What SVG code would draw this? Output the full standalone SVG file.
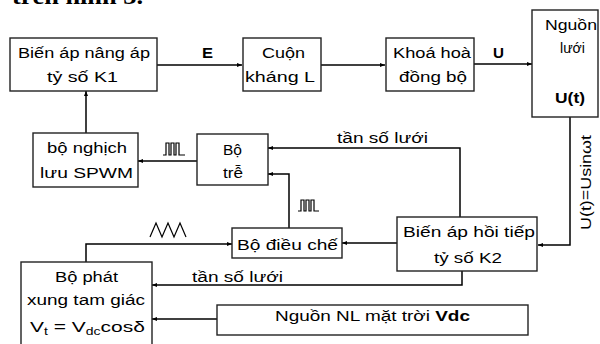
<svg xmlns="http://www.w3.org/2000/svg" width="600" height="344" viewBox="0 0 600 344">
<defs>
<marker id="ah" viewBox="0 0 10 10" refX="10" refY="5" markerWidth="5" markerHeight="5" orient="auto" markerUnits="userSpaceOnUse"><path d="M0,1 L10,5 L0,9 z" fill="#000"/></marker>
<style>
.b{fill:#fff;stroke:#222;stroke-width:1.4}
.c{fill:none;stroke:#000;stroke-width:1.5;marker-end:url(#ah)}
.s{fill:none;stroke:#000;stroke-width:1.2}
text{font-family:"Liberation Sans",Arial,sans-serif;font-size:14px;fill:#000}
.bd{font-weight:bold}
</style>
</defs>
<rect width="600" height="344" fill="#fff"/>
<text x="12" y="4" style="font-family:'Liberation Serif',serif;font-size:24px;font-weight:bold" textLength="131" lengthAdjust="spacingAndGlyphs">trên hình 3.</text>
<g id="connectors">
<path class="c" d="M157,65 H242"/>
<path class="c" d="M321,65 H385"/>
<path class="c" d="M474,64 H532"/>
<path class="c" d="M570,117 V245 H538"/>
<path class="c" d="M460,217 V148 H268"/>
<path class="c" d="M289,228 V174 H268"/>
<path class="c" d="M197,161 H138"/>
<path class="c" d="M86,133 V91"/>
<path class="c" d="M397,243 H342"/>
<path class="c" d="M86,262 V244 H232"/>
<path class="c" d="M462,271 V285 H152"/>
<path class="c" d="M217,319 H152"/>
<text x="202" y="58" class="bd" textLength="11" lengthAdjust="spacingAndGlyphs">E</text>
<text x="493" y="58" class="bd" textLength="11" lengthAdjust="spacingAndGlyphs">U</text>
<text x="337" y="143" textLength="91" lengthAdjust="spacingAndGlyphs">tần số lưới</text>
<text x="192" y="282" textLength="91" lengthAdjust="spacingAndGlyphs">tần số lưới</text>
<text transform="translate(591,230) rotate(-90)" textLength="95" lengthAdjust="spacingAndGlyphs">U(t)=Usinωt</text>
<path class="s" d="M163,155 H166 V143 H169 V155 H171 V143 H174 V155 H176 V143 H179 V155 H185"/>
<path class="s" d="M298,211 H301 V200 H304 V211 H306 V200 H309 V211 H311 V200 H314 V211 H319"/>
<path class="s" d="M150,237 L156,223 L162,237 L168,223 L174,237 L180,223 L186,237"/>
</g>
<g id="n1"><rect class="b" x="10" y="38" width="147" height="53"/>
<text x="18" y="58" textLength="132" lengthAdjust="spacingAndGlyphs">Biến áp nâng áp</text>
<text x="47" y="82" textLength="71" lengthAdjust="spacingAndGlyphs">tỷ số K1</text></g>
<g id="n2"><rect class="b" x="243" y="38" width="78" height="53"/>
<text x="262" y="58" textLength="43" lengthAdjust="spacingAndGlyphs">Cuộn</text>
<text x="245" y="82" textLength="70" lengthAdjust="spacingAndGlyphs">kháng L</text></g>
<g id="n3"><rect class="b" x="386" y="38" width="88" height="53"/>
<text x="393" y="58" textLength="78" lengthAdjust="spacingAndGlyphs">Khoá hoà</text>
<text x="399" y="82" textLength="68" lengthAdjust="spacingAndGlyphs">đồng bộ</text></g>
<g id="n4"><rect class="b" x="532" y="10" width="66" height="107"/>
<text x="545" y="30" textLength="52" lengthAdjust="spacingAndGlyphs">Nguồn</text>
<text x="560" y="53" textLength="25" lengthAdjust="spacingAndGlyphs">lưới</text>
<text x="555" y="103" class="bd" textLength="30" lengthAdjust="spacingAndGlyphs">U(t)</text></g>
<g id="n5"><rect class="b" x="33" y="133" width="105" height="54"/>
<text x="47" y="153" textLength="80" lengthAdjust="spacingAndGlyphs">bộ nghịch</text>
<text x="40" y="178" textLength="93" lengthAdjust="spacingAndGlyphs">lưu SPWM</text></g>
<g id="n6"><rect class="b" x="197" y="134" width="71" height="51"/>
<text x="223" y="155" textLength="19" lengthAdjust="spacingAndGlyphs">Bộ</text>
<text x="223" y="178" textLength="20" lengthAdjust="spacingAndGlyphs">trễ</text></g>
<g id="n7"><rect class="b" x="232" y="228" width="110" height="30"/>
<text x="237" y="250" textLength="101" lengthAdjust="spacingAndGlyphs">Bộ điều chế</text></g>
<g id="n8"><rect class="b" x="397" y="217" width="140" height="54"/>
<text x="403" y="237" textLength="132" lengthAdjust="spacingAndGlyphs">Biến áp hồi tiếp</text>
<text x="434" y="263" textLength="68" lengthAdjust="spacingAndGlyphs">tỷ số K2</text></g>
<g id="n9"><rect class="b" x="21" y="262" width="131" height="90"/>
<text x="55" y="282" textLength="63" lengthAdjust="spacingAndGlyphs">Bộ phát</text>
<text x="27" y="305" textLength="118" lengthAdjust="spacingAndGlyphs">xung tam giác</text>
<text transform="translate(30,332) scale(1.4,1)" x="0" y="0" style="font-size:15px">V<tspan font-size="10" dy="3">t</tspan><tspan dy="-3"> = V</tspan><tspan font-size="10" dy="3">dc</tspan><tspan dy="-3">cosδ</tspan></text></g>
<g id="n10"><rect class="b" x="217" y="305" width="311" height="30"/>
<text x="275" y="321" textLength="195" lengthAdjust="spacingAndGlyphs">Nguồn NL mặt trời <tspan class="bd">Vdc</tspan></text></g>
</svg>
